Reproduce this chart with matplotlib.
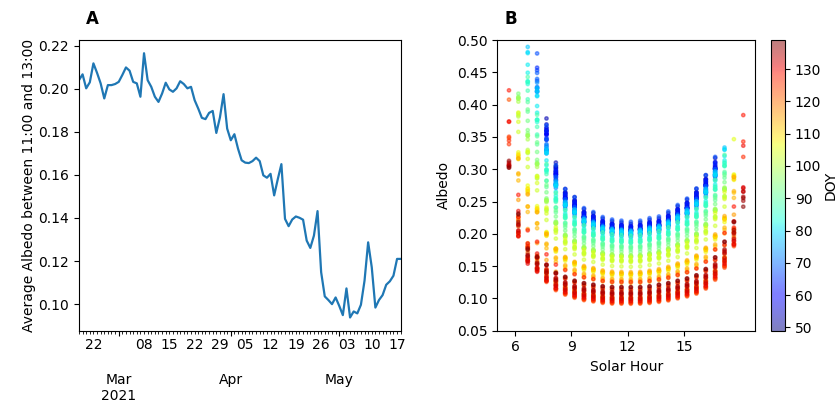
import numpy as np
import pandas as pd
import matplotlib
matplotlib.use("Agg")
import matplotlib.pyplot as plt
import matplotlib.dates as mdates
from matplotlib.ticker import FuncFormatter

# =========================
# Data
# =========================
# Panel A: daily mean albedo 11:00-13:00, 18 Feb - 18 May 2021
dates = pd.date_range("2021-02-18", "2021-05-18", freq="D")
albedo_noon = [
    0.2040, 0.2067, 0.2002, 0.2030, 0.2118, 0.2074, 0.2025, 0.1955, 0.2017, 0.2017,
    0.2022, 0.2032, 0.2064, 0.2099, 0.2084, 0.2032, 0.2025, 0.1963, 0.2165, 0.2040,
    0.2009, 0.1963, 0.1939, 0.1978, 0.2028, 0.1997, 0.1986, 0.2002, 0.2035, 0.2022,
    0.2002, 0.2009, 0.1947, 0.1908, 0.1865, 0.1859, 0.1888, 0.1897, 0.1795, 0.1867,
    0.1975, 0.1815, 0.1761, 0.1789, 0.1722, 0.1668, 0.1657, 0.1655, 0.1664, 0.1680,
    0.1664, 0.1598, 0.1587, 0.1605, 0.1505, 0.1580, 0.1650, 0.1396, 0.1362, 0.1393,
    0.1407, 0.1401, 0.1392, 0.1295, 0.1261, 0.1318, 0.1432, 0.1148, 0.1036, 0.1019,
    0.1000, 0.1031, 0.0992, 0.0949, 0.1073, 0.0938, 0.0966, 0.0957, 0.0997, 0.1109,
    0.1287, 0.1171, 0.0984, 0.1019, 0.1042, 0.1090, 0.1106, 0.1132, 0.1210, 0.1210,
]
doy = list(dates.dayofyear)

# Panel B: half-hourly solar-hour columns
solar_hours = [5.67, 6.17, 6.67, 7.17, 7.67, 8.17, 8.67, 9.17, 9.67, 10.17,
               10.67, 11.17, 11.67, 12.17, 12.67, 13.17, 13.67, 14.17, 14.67,
               15.17, 15.67, 16.17, 16.67, 17.17, 17.67, 18.17]
# first DOY with a value in each column (sun too low before that)
first_doy = [123, 94, 78, 64, 51, 49, 49, 49, 49, 49, 49, 49, 49,
             49, 49, 49, 49, 49, 49, 49, 49, 49, 52, 78, 105, 127]
# albedo relative to the noon mean, at first day and at last day of each column
ratio_first = [3.8, 2.5, 2.42, 2.25, 1.8, 1.48, 1.28, 1.22, 1.13, 1.1, 1.06, 1.04, 1.03,
               1.02, 1.03, 1.05, 1.06, 1.1, 1.15, 1.2, 1.28, 1.38, 1.5, 1.65, 2.1, 3.2]
ratio_last = [2.5, 1.9, 1.45, 1.35, 1.25, 1.15, 1.1, 1.05, 1.02, 1.0, 0.98, 0.97, 0.97,
              0.97, 0.97, 0.98, 1.0, 1.02, 1.05, 1.08, 1.12, 1.2, 1.35, 1.55, 1.8, 2.0]

xs, ys, cs = [], [], []
for i, d in enumerate(doy):
    for k, h in enumerate(solar_hours):
        if d < first_doy[k]:
            continue
        f = (d - first_doy[k]) / (doy[-1] - first_doy[k])
        r = ratio_first[k] + (ratio_last[k] - ratio_first[k]) * f
        xs.append(h)
        ys.append(albedo_noon[i] * r)
        cs.append(d)

# =========================
# Figure
# =========================
fig = plt.figure(figsize=(8.4, 4.03), dpi=100)
axA = fig.add_axes([0.094, 0.1794, 0.383, 0.7213])
axB = fig.add_axes([0.592, 0.1794, 0.3068, 0.7213])
cax = fig.add_axes([0.9175, 0.1794, 0.017, 0.7213])

# Panel A
axA.plot(dates, albedo_noon, color="C0", lw=1.6)
axA.set_xlim(dates[0], dates[-1])
axA.set_ylabel("Average Albedo between 11:00 and 13:00", labelpad=2)


def month_label(x, pos):
    dt = mdates.num2date(x)
    return dt.strftime("%b\n%Y") if pos == 0 else dt.strftime("%b")


def monday_label(x, pos):
    dt = mdates.num2date(x)
    return dt.strftime("%d") if dt.weekday() == 0 else ""


axA.xaxis.set_major_locator(mdates.MonthLocator())
axA.xaxis.set_major_formatter(FuncFormatter(month_label))
axA.xaxis.set_minor_locator(mdates.DayLocator())
axA.xaxis.set_minor_formatter(FuncFormatter(monday_label))
axA.tick_params(axis="x", which="major", pad=27)

# Panel B
sc = axB.scatter(xs, ys, c=cs, cmap="jet", vmin=49, vmax=139, s=6, alpha=0.5)
axB.set_ylim(0.05, 0.5)
axB.set_xticks([6, 9, 12, 15])
axB.set_yticks(np.arange(0.05, 0.51, 0.05))
axB.set_xlabel("Solar Hour")
axB.set_ylabel("Albedo")

cb = fig.colorbar(sc, cax=cax)
cb.set_ticks(range(50, 140, 10))
cb.set_label("DOY", labelpad=2)

fig.text(0.1024, 0.953, "A", fontsize=12, fontweight="bold", va="center")
fig.text(0.601, 0.953, "B", fontsize=12, fontweight="bold", va="center")

fig.savefig("out.png", dpi=100)
